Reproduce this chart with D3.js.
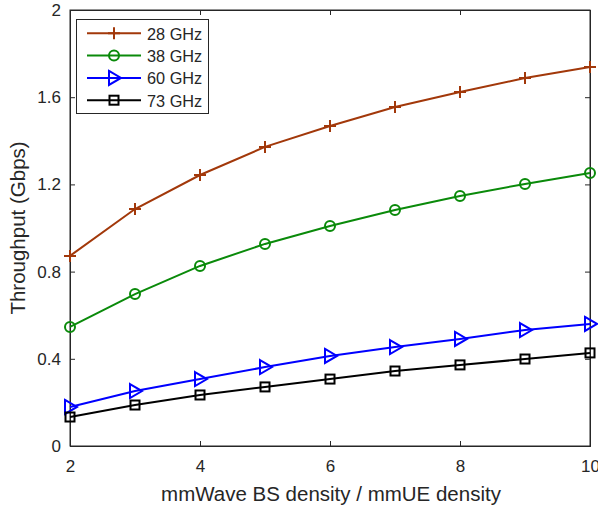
<!DOCTYPE html>
<html><head><meta charset="utf-8">
<script src="https://cdn.jsdelivr.net/npm/d3@7"></script>
<style>body{margin:0;background:#fff}svg{display:block}text{font-family:"Liberation Sans",Arial,sans-serif;fill:#262626}</style>
</head><body><svg id="c" width="598" height="506"></svg>
<script>
const xValues = [2,3,4,5,6,7,8,9,10];
const s28 = [0.872,1.087,1.243,1.372,1.468,1.555,1.624,1.688,1.739];
const s38 = [0.546,0.697,0.826,0.927,1.009,1.083,1.147,1.202,1.252];
const s60 = [0.179,0.252,0.307,0.362,0.413,0.454,0.491,0.532,0.560];
const s73 = [0.133,0.188,0.234,0.271,0.307,0.344,0.372,0.399,0.427];
const seriesNames = ["28 GHz","38 GHz","60 GHz","73 GHz"];
const xTicks = [2,4,6,8,10];
const yTicks = [0,0.4,0.8,1.2,1.6,2];
const yTickLabels = ["0","0.4","0.8","1.2","1.6","2"];

const series = [
  {name:seriesNames[0], values:s28, color:"#a2380a", marker:"plus"},
  {name:seriesNames[1], values:s38, color:"#0a8a0a", marker:"circle"},
  {name:seriesNames[2], values:s60, color:"#0000ff", marker:"tri"},
  {name:seriesNames[3], values:s73, color:"#000000", marker:"square"}
];

const svg = d3.select("#c");
const L=70, R=590, T=10, B=446;
const x = d3.scaleLinear().domain([2,10]).range([L,R]);
const y = d3.scaleLinear().domain([0,2]).range([B,T]);
const axisColor="#262626";

svg.append("rect").attr("x",L).attr("y",T).attr("width",R-L).attr("height",B-T)
  .attr("fill","none").attr("stroke",axisColor).attr("stroke-width",1);

const gx = svg.append("g").attr("transform",`translate(0,${B})`)
  .call(d3.axisBottom(x).tickValues(xTicks).tickSize(-5).tickPadding(13.5).tickFormat(d3.format("d")));
const gxTop = svg.append("g").attr("transform",`translate(0,${T})`)
  .call(d3.axisTop(x).tickValues(xTicks).tickSize(-5).tickFormat(""));
const gy = svg.append("g").attr("transform",`translate(${L},0)`)
  .call(d3.axisLeft(y).tickValues(yTicks).tickSize(-5).tickPadding(9).tickFormat((d,i)=>yTickLabels[i]));
const gyR = svg.append("g").attr("transform",`translate(${R},0)`)
  .call(d3.axisRight(y).tickValues(yTicks).tickSize(-5).tickFormat(""));
[gx,gxTop,gy,gyR].forEach(g=>{
  g.select(".domain").attr("stroke",axisColor);
  g.selectAll(".tick line").attr("stroke",axisColor);
  g.selectAll("text").attr("font-size",17).attr("fill",axisColor).attr("font-family","Liberation Sans, Arial, sans-serif");
});

svg.append("text").attr("x",331).attr("y",501).attr("text-anchor","middle").attr("font-size",20.5).text("mmWave BS density / mmUE density");
svg.append("text").attr("transform",`translate(25,${(T+B)/2}) rotate(-90)`).attr("text-anchor","middle").attr("font-size",20.5).text("Throughput (Gbps)");

function drawMarker(g, type, cx, cy, color){
  if(type==="plus"){
    g.append("path").attr("d",`M${cx-6},${cy}H${cx+6}M${cx},${cy-6}V${cy+6}`).attr("stroke",color).attr("stroke-width",2).attr("fill","none");
  } else if(type==="circle"){
    g.append("circle").attr("cx",cx).attr("cy",cy).attr("r",5).attr("stroke",color).attr("stroke-width",2).attr("fill","none");
  } else if(type==="tri"){
    g.append("path").attr("d",`M${cx-5},${cy-7}L${cx+7},${cy}L${cx-5},${cy+7}Z`).attr("stroke",color).attr("stroke-width",2).attr("fill","none");
  } else {
    g.append("rect").attr("x",cx-4.5).attr("y",cy-4.5).attr("width",9).attr("height",9).attr("stroke",color).attr("stroke-width",2).attr("fill","none");
  }
}

const line = d3.line().x((d,i)=>x(xValues[i])).y(d=>y(d));
series.forEach(s=>{
  const g = svg.append("g");
  g.append("path").datum(s.values).attr("d",line).attr("fill","none").attr("stroke",s.color).attr("stroke-width",2);
  s.values.forEach((v,i)=>drawMarker(g,s.marker,x(xValues[i]),y(v),s.color));
});

const lg = svg.append("g");
lg.append("rect").attr("x",76.5).attr("y",19.5).attr("width",132).attr("height",94).attr("fill","#fff").attr("stroke",axisColor).attr("stroke-width",1);
series.forEach((s,i)=>{
  const ly = 33.3 + i*22.3;
  lg.append("line").attr("x1",87).attr("x2",141).attr("y1",ly).attr("y2",ly).attr("stroke",s.color).attr("stroke-width",2);
  drawMarker(lg,s.marker,114,ly,s.color);
  lg.append("text").attr("x",147).attr("y",ly+6.5).attr("font-size",16.3).attr("fill","#000").text(s.name);
});
</script></body></html>
